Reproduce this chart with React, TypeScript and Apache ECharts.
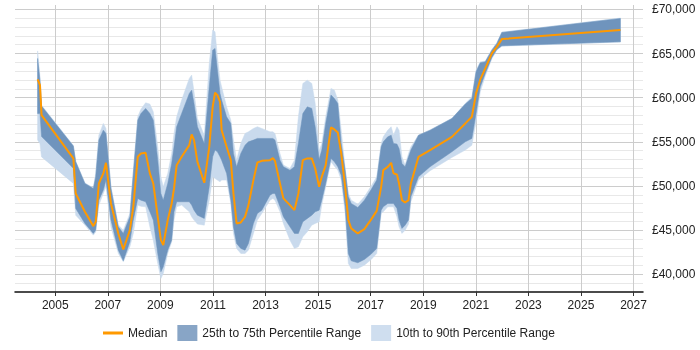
import React, { useEffect, useRef } from "react";
import * as echarts from "echarts";

// Salary percentiles over time (decimal years)
const years = [
  2004.33, 2004.42, 2004.48, 2005.69, 2005.78, 2006.13, 2006.45, 2006.54, 2006.66, 2006.83,
  2006.93, 2007.12, 2007.4, 2007.59, 2007.84, 2007.97, 2008.14, 2008.26, 2008.44, 2008.6,
  2008.73, 2008.9, 2009.02, 2009.11, 2009.28, 2009.43, 2009.52, 2009.62, 2009.81, 2010.1,
  2010.19, 2010.28, 2010.41, 2010.67, 2010.86, 2010.99, 2011.08, 2011.17, 2011.27, 2011.33,
  2011.52, 2011.68, 2011.78, 2011.9, 2012.06, 2012.22, 2012.35, 2012.54, 2012.69, 2012.86,
  2013.17, 2013.28, 2013.36, 2013.55, 2013.68, 2013.93, 2014.1, 2014.25, 2014.42, 2014.59,
  2014.76, 2014.89, 2015.04, 2015.14, 2015.29, 2015.49, 2015.62, 2015.75, 2015.88, 2016.03,
  2016.15, 2016.26, 2016.51, 2016.76, 2017.02, 2017.23, 2017.4, 2017.48, 2017.65, 2017.78,
  2017.87, 2018.0, 2018.08, 2018.19, 2018.31, 2018.44, 2018.53, 2018.82, 2019.26, 2020.09,
  2020.6, 2020.85, 2021.01, 2021.17, 2021.36, 2021.61, 2021.8, 2021.99, 2026.5,
];

const p10 = [
  55200, 54800, 53300, 50300, 46700, 45570, 44440, 44800, 47840, 49160,
  49910, 45380, 42360, 41420, 43120, 44630, 47840, 47700, 47650, 45380,
  43870, 41230, 39530, 40100, 42360, 43680, 46140, 47650, 47840, 47080,
  46520, 46140, 45690, 45570, 48400, 51050, 50860, 50670, 50480, 50670,
  50670, 48030, 44630, 42930, 42360, 42360, 42740, 44630, 46140, 46890,
  48400, 48590, 48400, 47080, 45760, 43870, 42930, 43120, 44250, 44820,
  45570, 45760, 45950, 47840, 49910, 52750, 52250, 51800, 50670, 46890,
  41230, 40660, 40660, 41040, 41680, 42360, 46890, 47080, 47650, 47650,
  47650, 46520, 45380, 44630, 45000, 45690, 48220, 50670, 51730, 53240,
  54070, 54630, 57270, 60670, 62450, 64410, 65390, 65840, 66300,
];

const p25 = [
  58200, 58200, 55600, 52000, 47460, 45760, 44630, 45000, 48400, 49540,
  50670, 46140, 42740, 41530, 43680, 46140, 48590, 48400, 48220, 47080,
  46140, 42360, 40290, 40850, 42740, 43870, 47080, 48220, 48220, 48220,
  47840, 47270, 46700, 46330, 49910, 53310, 54070, 53880, 53310, 52930,
  51420, 48400, 45380, 43500, 42930, 42740, 43500, 45760, 46890, 47270,
  48970, 49160, 49160, 47650, 46520, 45380, 44630, 44630, 45950, 46330,
  46700, 47080, 47270, 48400, 50290, 53120, 52750, 52180, 51230, 47650,
  42360, 41530, 41310, 41680, 42290, 42930, 47270, 47650, 48030, 48030,
  48030, 47460, 46140, 45200, 45570, 46140, 48780, 51050, 52180, 53880,
  55010, 55390, 58220, 61240, 62750, 64560, 65470, 65880, 66330,
];

const median = [
  62070, 61430, 58030, 53130, 49160, 47080, 45460, 45950, 50290, 51430,
  52630, 48030, 44630, 42820, 45000, 47640, 53310, 53690, 53760, 51430,
  50290, 46510, 43870, 43310, 46140, 48030, 49730, 52360, 53310, 54630,
  55840, 55200, 52740, 50370, 54440, 58970, 60560, 60290, 59540, 56330,
  54440, 52930, 49160, 45760, 45880, 46510, 47840, 50670, 52670, 52850,
  52930, 53160, 52850, 50290, 48600, 47840, 47270, 49160, 52930, 53130,
  53130, 51990, 49910, 51040, 52360, 56640, 56410, 56070, 53690, 49910,
  46140, 45200, 44630, 45120, 46220, 47190, 49910, 51800, 52170, 52630,
  51430, 51310, 50290, 48400, 48140, 48400, 50290, 53310, 54070, 55570,
  57090, 57840, 60490, 62070, 63320, 65020, 65760, 66640, 67660,
];

const p75 = [
  64450, 62000, 59050, 54520, 52750, 50290, 49720, 51050, 55200, 56330,
  55950, 49720, 45380, 44630, 46520, 51420, 57460, 58200, 58790, 58220,
  57460, 52930, 49160, 48400, 50290, 52560, 54440, 56710, 58220, 60480,
  60860, 59350, 56710, 54820, 61240, 65390, 65580, 63130, 60480, 59730,
  57840, 57090, 53690, 52180, 53690, 54630, 55010, 55200, 55390, 55390,
  55390, 55390, 55200, 52930, 52180, 51800, 52180, 54820, 58220, 58970,
  58790, 56710, 53000, 54070, 57090, 60300, 59920, 59350, 54820, 51800,
  48780, 48030, 47570, 48400, 49610, 50670, 54440, 55010, 55580, 55760,
  54820, 54750, 54250, 52560, 52180, 53310, 54070, 55760, 56330, 57650,
  59280, 59920, 62940, 63960, 64070, 65390, 66150, 67390, 68980,
];

const p90 = [
  65300, 62400, 59160, 54600, 52800, 50350, 49800, 51500, 55760, 57090,
  56520, 50000, 45600, 45000, 46890, 51700, 57840, 58700, 59430, 59280,
  58410, 54440, 51050, 49910, 51420, 53690, 55950, 57840, 59730, 62180,
  62560, 60670, 57650, 55760, 63880, 67660, 67470, 64640, 61990, 61240,
  58970, 57460, 55200, 52930, 54820, 55950, 56140, 56520, 56710, 56520,
  56140, 56140, 55950, 53690, 52370, 51990, 52930, 57840, 61620, 61990,
  61620, 59350, 54000, 54820, 57840, 61050, 60860, 59730, 56330, 52000,
  49160, 48400, 47950, 48780, 49990, 51050, 54820, 55580, 56330, 56710,
  55760, 56710, 56330, 53310, 52370, 53690, 54440, 55760, 56330, 57650,
  59350, 60110, 63130, 64070, 64150, 65470, 66220, 67430, 69020,
];

const xTickYears = [2005, 2007, 2009, 2011, 2013, 2015, 2017, 2019, 2021, 2023, 2025, 2027];

const MEDIAN_NAME = "Median";
const IQR_NAME = "25th to 75th Percentile Range";
const OUTER_NAME = "10th to 90th Percentile Range";

const FONT = "'Liberation Sans', Arial, sans-serif";

const DARK_BAND = "#6f94bd";
const LIGHT_BAND = "#c9daed";
const MEDIAN_COLOR = "#ff9900";

function formatPounds(v: number): string {
  return "£" + String(Math.round(v)).replace(/\B(?=(\d{3})+(?!\d))/g, ",");
}

// A filled band between two percentile series, drawn as a single polygon
function bandSeries(name: string, lower: number[], upper: number[], color: string, z: number) {
  return {
    name,
    type: "custom",
    z,
    silent: true,
    itemStyle: { color },
    encode: { x: 0, y: [1, 2] },
    data: years.map((y, i) => [y, lower[i], upper[i]]),
    renderItem: (params: any, api: any) => {
      if (params.dataIndex !== 0) return null;
      const top = years.map((y, i) => api.coord([y, upper[i]]));
      const bottom = years.map((y, i) => api.coord([y, lower[i]])).reverse();
      return {
        type: "polygon",
        shape: { points: top.concat(bottom) },
        style: { fill: color, stroke: color, lineWidth: 0.5 },
      };
    },
  };
}

export default function App() {
  const ref = useRef<HTMLDivElement>(null);

  useEffect(() => {
    if (!ref.current) return;
    const chart = echarts.init(ref.current, undefined, { renderer: "svg" });

    const minor = "#e8e8e8";
    const major = "#cccccc";

    chart.setOption({
      animation: false,
      grid: { left: 15, right: 57, top: 5, bottom: 58, containLabel: false },
      legend: {
        left: 98,
        top: 320,
        itemWidth: 20,
        itemHeight: 16,
        itemGap: 10,
        symbolKeepAspect: true,
        textStyle: { fontFamily: FONT, fontSize: 12, color: "#222" },
        selectedMode: false,
        data: [
          {
            name: MEDIAN_NAME,
            icon: "path://M0,0 L20,0 L20,3 L0,3 Z",
            itemStyle: { color: MEDIAN_COLOR },
          },
          { name: IQR_NAME, icon: "rect", itemStyle: { color: "#88a5c6" } },
          { name: OUTER_NAME, icon: "rect", itemStyle: { color: "#cfdeef" } },
        ],
      },
      xAxis: {
        type: "value",
        min: 2003.47,
        max: 2027.36,
        axisLine: { show: true, lineStyle: { color: "#111", width: 1.5 } },
        axisTick: {
          show: true,
          customValues: xTickYears,
          length: 4,
          lineStyle: { color: "#333" },
        },
        axisLabel: {
          customValues: xTickYears,
          formatter: (v: number) => String(Math.round(v)),
          fontFamily: FONT,
          fontSize: 12,
          color: "#222",
          margin: 7,
        },
        splitLine: { show: true, lineStyle: { color: "#cccccc", width: 1 } },
      },
      yAxis: {
        type: "value",
        position: "right",
        min: 38000,
        max: 70500,
        interval: 1000,
        axisLine: { show: false },
        axisTick: { show: false },
        axisLabel: {
          formatter: (v: number) => (v % 5000 === 0 ? formatPounds(v) : ""),
          fontFamily: FONT,
          fontSize: 12,
          color: "#222",
          margin: 9,
        },
        splitLine: {
          show: true,
          showMinLine: false,
          showMaxLine: false,
          lineStyle: { color: [minor, major, minor, minor, minor], width: 1 },
        },
      },
      series: [
        bandSeries(OUTER_NAME, p10, p90, LIGHT_BAND, 1),
        bandSeries(IQR_NAME, p25, p75, DARK_BAND, 2),
        {
          name: MEDIAN_NAME,
          type: "line",
          data: years.map((y, i) => [y, median[i]]),
          symbol: "none",
          itemStyle: { color: MEDIAN_COLOR },
          lineStyle: { color: MEDIAN_COLOR, width: 2 },
          silent: true,
          z: 3,
        },
      ],
    });

    return () => chart.dispose();
  }, []);

  return (
    <div
      ref={ref}
      style={{ position: "fixed", left: 0, top: 0, width: 700, height: 350 }}
    />
  );
}
